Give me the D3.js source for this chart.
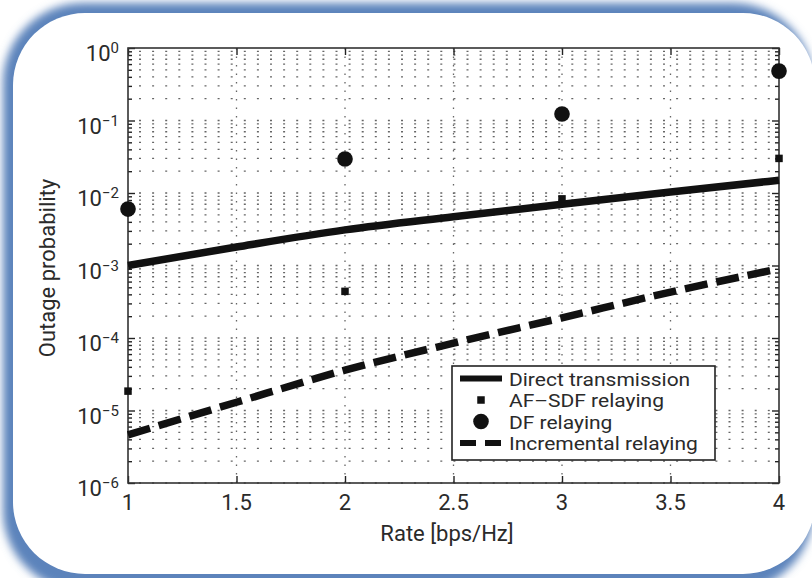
<!DOCTYPE html>
<html>
<head>
<meta charset="utf-8">
<script src="https://cdn.jsdelivr.net/npm/d3@7"></script>
<style>
  html, body { margin: 0; padding: 0; background: #fff; }
  svg { display: block; }
  text { font-family: Roboto, "Liberation Sans", sans-serif; fill: #2a2a2a; }
</style>
</head>
<body>
<svg id="chart" width="812" height="578"></svg>
<script>
// Rate axis positions (bps/Hz)
const rates = [1, 1.5, 2, 2.5, 3, 3.5, 4];
// Outage probability curves
const directTx = [1.0e-3, 1.8e-3, 3.1e-3, 4.7e-3, 7.0e-3, 1.03e-2, 1.5e-2];
const incremental = [4.6e-6, 1.3e-5, 3.6e-5, 8.5e-5, 1.9e-4, 4.3e-4, 9.0e-4];
// Marker-only series, evaluated at integer rates
const markerRates = [1, 2, 3, 4];
const afSdf = [1.85e-5, 4.4e-4, 8.3e-3, 3.0e-2];
const dfRelay = [6.0e-3, 2.95e-2, 1.23e-1, 4.8e-1];
// Axis ticks
const xTicks = [1, 1.5, 2, 2.5, 3, 3.5, 4];
const xTickLabels = ["1", "1.5", "2", "2.5", "3", "3.5", "4"];
const yDecades = [-6, -5, -4, -3, -2, -1, 0];
const legendLabels = ["Direct transmission", "AF\u2013SDF relaying", "DF relaying", "Incremental relaying"];

const svg = d3.select("#chart");
const W = 812, H = 578;
const plot = { left: 128, right: 779, top: 48, bottom: 483 };

// ---- rounded blue frame ----
const defs = svg.append("defs");
const blur = defs.append("filter").attr("id", "soft").attr("x", "-5%").attr("y", "-5%").attr("width", "110%").attr("height", "110%");
blur.append("feGaussianBlur").attr("stdDeviation", 4);
svg.append("rect").attr("x", 0).attr("y", 0).attr("width", W).attr("height", H).attr("fill", "#fff");
svg.append("rect")
  .attr("x", 3).attr("y", 3).attr("width", W - 2).attr("height", H + 10)
  .attr("rx", 80).attr("ry", 80)
  .attr("fill", "#5b83bb").attr("filter", "url(#soft)");
svg.append("rect")
  .attr("x", 13).attr("y", 13).attr("width", W - 10).attr("height", H - 17)
  .attr("rx", 72).attr("ry", 72)
  .attr("fill", "#fff");

// ---- scales ----
const x = d3.scaleLinear().domain([1, 4]).range([plot.left, plot.right]);
const y = d3.scaleLog().domain([1e-6, 1]).range([plot.bottom, plot.top]);

const g = svg.append("g");

// ---- dotted grid ----
const minorVals = [];
yDecades.slice(0, -1).forEach(d => {
  for (let k = 1; k <= 9; k++) minorVals.push(k * Math.pow(10, d));
});
g.append("g").selectAll("line").data(minorVals).join("line")
  .attr("x1", plot.left).attr("x2", plot.right)
  .attr("y1", d => y(d)).attr("y2", d => y(d))
  .attr("stroke", "#666").attr("stroke-width", 1.3)
  .attr("stroke-dasharray", "2,11.1").attr("stroke-dashoffset", -11);
g.append("g").selectAll("line").data(xTicks.slice(1, -1)).join("line")
  .attr("x1", d => x(d)).attr("x2", d => x(d))
  .attr("y1", plot.top).attr("y2", plot.bottom)
  .attr("stroke", "#666").attr("stroke-width", 1.3)
  .attr("stroke-dasharray", "1.5,7");

// ---- axes (ticks inward on all four sides) ----
const yAll = minorVals.concat([1]);
const isDecade = v => Math.abs(Math.log10(v) - Math.round(Math.log10(v))) < 1e-9;
const axisL = d3.axisRight(y).tickValues(yAll).tickFormat("").tickSizeOuter(0)
  .tickSize(0);
const gL = g.append("g").attr("transform", `translate(${plot.left},0)`).call(axisL);
gL.select(".domain").remove();
gL.selectAll(".tick line").attr("x2", d => isDecade(d) ? 7 : 4).attr("stroke", "#222").attr("stroke-width", 1.4);
const gR = g.append("g").attr("transform", `translate(${plot.right},0)`).call(axisL);
gR.select(".domain").remove();
gR.selectAll(".tick line").attr("x2", d => isDecade(d) ? -7 : -4).attr("stroke", "#222").attr("stroke-width", 1.4);

const axisB = d3.axisTop(x).tickValues(xTicks).tickFormat("").tickSize(7).tickSizeOuter(0);
const gB = g.append("g").attr("transform", `translate(0,${plot.bottom})`).call(axisB);
gB.select(".domain").remove();
gB.selectAll(".tick line").attr("stroke", "#222").attr("stroke-width", 1.4);
const gT = g.append("g").attr("transform", `translate(0,${plot.top})`).call(d3.axisBottom(x).tickValues(xTicks).tickFormat("").tickSize(7).tickSizeOuter(0));
gT.select(".domain").remove();
gT.selectAll(".tick line").attr("stroke", "#222").attr("stroke-width", 1.4);

g.append("rect")
  .attr("x", plot.left).attr("y", plot.top)
  .attr("width", plot.right - plot.left).attr("height", plot.bottom - plot.top)
  .attr("fill", "none").attr("stroke", "#333").attr("stroke-width", 1.6);

// x tick labels
g.append("g").selectAll("text").data(xTicks).join("text")
  .attr("x", d => x(d)).attr("y", plot.bottom + 27)
  .attr("text-anchor", "middle").attr("font-size", 22)
  .text((d, i) => xTickLabels[i]);

// y tick labels: 10 with superscript exponent
const yl = g.append("g").selectAll("text").data(yDecades).join("text")
  .attr("x", plot.left - 9).attr("y", d => y(Math.pow(10, d)) + 13)
  .attr("text-anchor", "end").attr("font-size", 22);
yl.append("tspan").text("10");
yl.append("tspan").attr("font-size", 15).attr("dy", -8)
  .text(d => d === 0 ? "0" : "\u2212" + Math.abs(d));

// axis titles
svg.append("text")
  .attr("x", 447).attr("y", 541)
  .attr("text-anchor", "middle").attr("font-size", 22)
  .text("Rate [bps/Hz]");
svg.append("text")
  .attr("transform", `translate(55,268) rotate(-90)`)
  .attr("text-anchor", "middle").attr("font-size", 22)
  .text("Outage probability");

// ---- series ----
const line = d3.line().x(d => x(d[0])).y(d => y(d[1])).curve(d3.curveMonotoneX);
g.append("path").datum(rates.map((r, i) => [r, directTx[i]]))
  .attr("d", line).attr("fill", "none").attr("stroke", "#111").attr("stroke-width", 7.5);
g.append("path").datum(rates.map((r, i) => [r, incremental[i]]))
  .attr("d", line).attr("fill", "none").attr("stroke", "#111").attr("stroke-width", 7.5)
  .attr("stroke-dasharray", "23,9");

const sq = 7.5;
g.append("g").selectAll("rect").data(markerRates.map((r, i) => [r, afSdf[i]])).join("rect")
  .attr("x", d => x(d[0]) - sq / 2).attr("y", d => y(d[1]) - sq / 2)
  .attr("width", sq).attr("height", sq).attr("fill", "#111");
g.append("g").selectAll("circle").data(markerRates.map((r, i) => [r, dfRelay[i]])).join("circle")
  .attr("cx", d => x(d[0])).attr("cy", d => y(d[1])).attr("r", 7.8).attr("fill", "#111");

// ---- legend ----
const lg = svg.append("g");
lg.append("rect").attr("x", 452).attr("y", 366).attr("width", 263).attr("height", 94)
  .attr("fill", "#fff").attr("stroke", "#222").attr("stroke-width", 1.6);
const baseY = [385.5, 407, 428.5, 450];
const rowY = baseY.map(b => b - 7);
lg.append("line").attr("x1", 460).attr("x2", 502).attr("y1", rowY[0]).attr("y2", rowY[0])
  .attr("stroke", "#111").attr("stroke-width", 6);
lg.append("rect").attr("x", 481 - sq / 2).attr("y", rowY[1] - sq / 2).attr("width", sq).attr("height", sq).attr("fill", "#111");
lg.append("circle").attr("cx", 481).attr("cy", rowY[2]).attr("r", 7.8).attr("fill", "#111");
lg.append("line").attr("x1", 460).attr("x2", 502).attr("y1", rowY[3]).attr("y2", rowY[3])
  .attr("stroke", "#111").attr("stroke-width", 6).attr("stroke-dasharray", "16,9");
// compact type set a little narrower in height, stretched to the usual width
const legendFont = 18.2, legendWidthFont = 21;
lg.selectAll("text.lab").data(legendLabels).join("text").attr("class", "lab")
  .attr("x", 509).attr("y", (d, i) => baseY[i])
  .attr("font-size", legendFont)
  .text(d => d)
  .each(function () {
    const w = this.getComputedTextLength() * legendWidthFont / legendFont;
    d3.select(this).attr("textLength", w).attr("lengthAdjust", "spacingAndGlyphs");
  });
</script>
</body>
</html>
